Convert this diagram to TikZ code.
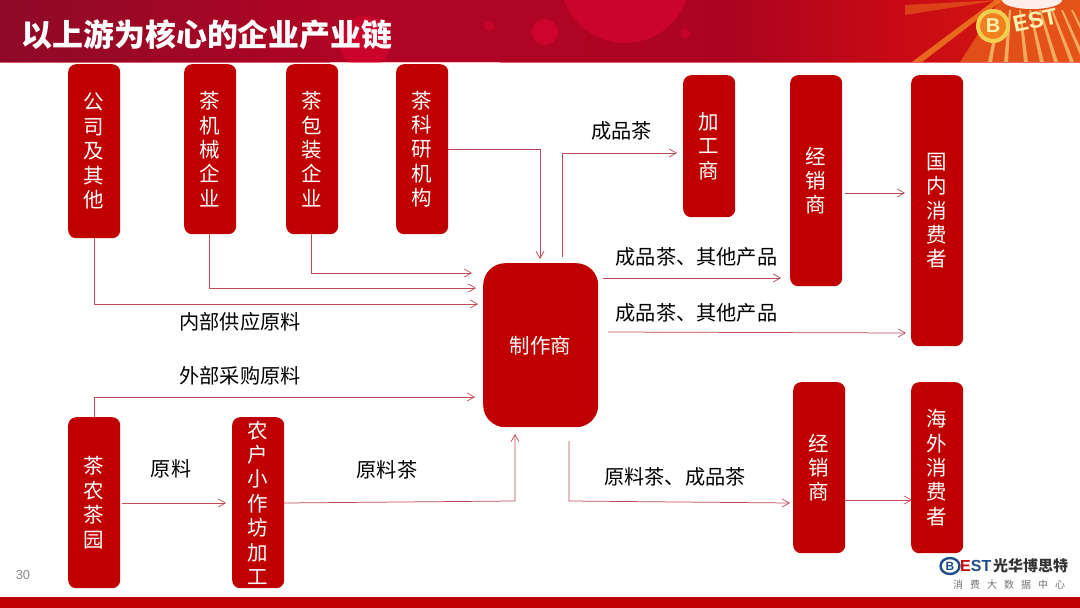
\documentclass[tikz,border=0pt]{standalone}
\usepackage{fontspec}
\setmainfont{Noto Sans CJK SC}
\newfontfamily\latinfont{Liberation Sans}
\usetikzlibrary{arrows.meta,calc,positioning}
\definecolor{boxred}{HTML}{C00000}
\definecolor{linkred}{HTML}{BE4B55}
\definecolor{hdA}{HTML}{8E0A28}
\definecolor{hdB}{HTML}{B00424}
\definecolor{hdC}{HTML}{AC0420}
\definecolor{hdD}{HTML}{C80A14}
\definecolor{hdE}{HTML}{D81E10}
\definecolor{hdCirc}{HTML}{D2042E}
\definecolor{raya}{HTML}{F08020}
\definecolor{rayb}{HTML}{F8C070}
\definecolor{ringy}{HTML}{F0D050}
\definecolor{esty}{HTML}{FBF2B0}
\definecolor{bestblue}{HTML}{1F4E8C}
\tikzset{
  vbox/.style={fill=boxred,rounded corners=8pt,text=white,font=\fontsize{20.5}{24.4}\selectfont,align=center,inner sep=0pt,anchor=north west},
  link/.style={draw=linkred,line width=0.75pt,-{Straight Barb[length=7pt,width=8pt,line width=0.7pt]}},
  lab/.style={text=black,font=\fontsize{20.2}{24}\selectfont,inner sep=0pt},
}
\newcommand{\vb}[6]{\node[vbox,minimum width=#4pt,minimum height=#5pt] (#1) at (#2,#3) {#6};}
\begin{document}
\begin{tikzpicture}[x=1pt,y=-1pt]
\useasboundingbox (0,0) rectangle (1080,608);
\fill[white] (0,0) rectangle (1080,608);
\begin{scope}
\clip (0,0) rectangle (1080,62);
\fill[left color=hdA,right color=hdB] (0,0) rectangle (330,62);
\fill[hdB] (330,0) rectangle (500,62);
\fill[left color=hdB,right color=hdC] (500,0) rectangle (730,62);
\fill[left color=hdC,right color=hdD] (730,0) rectangle (900,62);
\fill[left color=hdD,right color=hdE] (900,0) rectangle (1080,62);
\fill[hdCirc,opacity=.8] (625,-22) circle (65);
\fill[hdCirc,opacity=.8] (365,42) circle (26);
\fill[hdCirc,opacity=.9] (545,32) circle (13);
\fill[hdCirc,opacity=.7] (489,26) circle (5);
\fill[hdCirc,opacity=.7] (685,33) circle (5);
% sunburst
\fill[raya,opacity=.55] (1000,0) -- (1080,0) -- (1080,62) -- (960,62) -- cycle;
\fill[raya,opacity=.8] (995,0) -- (1003,0) -- (922,62) -- (912,62) -- cycle;
\fill[raya,opacity=.45] (905,5) -- (1000,0) -- (905,15) -- cycle;
\foreach \xa/\xb in {1000/990,1010/1006,1020/1026,1030/1042,1040/1056,1052/1072,1062/1085,1072/1098}{
  \fill[rayb,opacity=.8] (\xa-1,10) -- (\xa+1,10) -- (\xb+2,62) -- (\xb-2,62) -- cycle;
}
\fill[white,opacity=.9] (1032,0) ellipse (30 and 9);
\end{scope}
\fill[red!40!white,opacity=.6] (0,61.5) rectangle (1080,62.5);
\fill[boxred] (0,597) rectangle (1080,608);
% header title
\node[text=white,anchor=west,inner sep=0pt,font=\fontsize{30.9}{32}\selectfont\bfseries] (title) at (21.5,35) {以上游为核心的企业产业链};
% logo in header
\draw[draw=ringy,line width=4pt,fill=raya] (993,26) ellipse (15 and 15);
\node[text=esty,font=\latinfont\bfseries\fontsize{20}{20}\selectfont,inner sep=0pt] (hb) at (993,26) {B};
\node[text=esty,rotate=12,font=\latinfont\bfseries\fontsize{23}{23}\selectfont,inner sep=0pt] (hest) at (1035,20) {EST};
% boxes
\vb{gs}{68}{64}{52}{174}{公\\司\\及\\其\\他}
\vb{jx}{184}{64}{52}{170}{茶\\机\\械\\企\\业}
\vb{bz}{286}{64}{52}{170}{茶\\包\\装\\企\\业}
\vb{ky}{396}{64}{52}{170}{茶\\科\\研\\机\\构}
\vb{jg}{683}{75}{52}{142}{加\\工\\商}
\vb{jxa}{790}{75}{52}{211}{经\\销\\商}
\vb{gn}{911}{75}{52}{271}{国\\内\\消\\费\\者}
\vb{cy}{68}{417}{52}{171}{茶\\农\\茶\\园}
\vb{nh}{232}{417}{52}{171}{农\\户\\小\\作\\坊\\加\\工}
\vb{jxb}{793}{382}{52}{171}{经\\销\\商}
\vb{hw}{911}{382}{52}{171}{海\\外\\消\\费\\者}
\node[vbox,rounded corners=22pt,minimum width=115pt,minimum height=164pt] (zz) at (483,263) {制作商};
% free ends
\coordinate (a1) at (478,304);
\coordinate (a2) at (476,288);
\coordinate (a3) at (472,273);
\coordinate (a4) at (540,259);
\coordinate (a5s) at (562,257);
\coordinate (a5) at (677,153);
\coordinate (a6s) at (603,278);
\coordinate (a6) at (781,278);
\coordinate (a7s) at (608,332);
\coordinate (a7) at (906,333);
\coordinate (a8) at (475,397);
\coordinate (a9) at (226,503);
\coordinate (a10) at (515,434);
\coordinate (a11s) at (569,441);
\coordinate (a11) at (790,503);
\coordinate (a12) at (912,500);
\coordinate (a13) at (905,193);
% connectors
\draw[link] (94,238) |- (a1);
\draw[link] (209,234) |- (a2);
\draw[link] (311,234) |- (a3);
\draw[link] (448,149) -| (a4);
\draw[link] (a5s) |- (a5);
\draw[link] (a6s) -- (a6);
\draw[link] (a7s) -- (a7);
\draw[link] (94,417) |- (a8);
\draw[link] (122,503) -- (a9);
\draw[link] (284,503) -- (515,501) -- (a10);
\draw[link] (a11s) -- (569,501) -- (a11);
\draw[link] (845,500) -- (a12);
\draw[link] (845,193) -- (a13);
% labels
\node[lab] (l1) at (621.5,130.5) {成品茶};
\node[lab] (l2) at (696.5,256.5) {成品茶、其他产品};
\node[lab] (l3) at (696.5,312.5) {成品茶、其他产品};
\node[lab] (l4) at (240,321.5) {内部供应原料};
\node[lab] (l5) at (240,375.5) {外部采购原料};
\node[lab] (l6) at (171,468.5) {原料};
\node[lab] (l7) at (387,469.5) {原料茶};
\node[lab] (l8) at (675,476.5) {原料茶、成品茶};
% page number and footer logo
\node[text=black!45,font=\latinfont\fontsize{13}{13}\selectfont,inner sep=0pt] (pg) at (23,575) {30};
\draw[draw=bestblue,line width=2.4pt,fill=white] (950,566) ellipse (9.5 and 8);
\node[text=bestblue,font=\latinfont\bfseries\fontsize{12}{12}\selectfont,inner sep=0pt] (fb) at (950,566) {B};
\node[anchor=west,inner sep=0pt,font=\latinfont\bfseries\fontsize{16}{16}\selectfont] (fe) at (960,566) {\textcolor{red!80!black}{E}\textcolor{bestblue}{ST}};
\node[anchor=west,inner sep=0pt,text=black!80,font=\fontsize{15}{15}\selectfont\bfseries] (fn) at (993,566) {光华博思特};
\node[anchor=west,inner sep=0pt,text=black!55,font=\fontsize{10}{10}\selectfont] (fs) at (953,585) {消\hspace{7pt}费\hspace{7pt}大\hspace{7pt}数\hspace{7pt}据\hspace{7pt}中\hspace{7pt}心};
\end{tikzpicture}
\end{document}
